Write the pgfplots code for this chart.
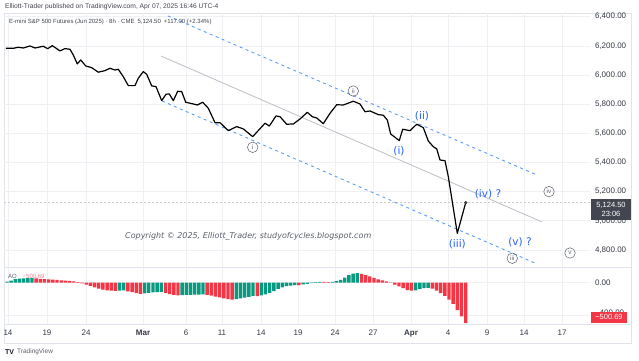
\documentclass[border=0pt]{standalone}
\usepackage{fontspec}
\setmainfont{Liberation Sans}
\newfontfamily\dejavu{DejaVu Sans}
\usepackage{pgfplots}
\pgfplotsset{compat=1.18}
\usepackage{pgfplotstable}

\definecolor{tvgrid}{HTML}{EEF0F4}
\definecolor{tvframe}{HTML}{E0E3EB}
\definecolor{tvtext}{HTML}{131722}
\definecolor{tvgrey}{HTML}{5D606B}
\definecolor{chanblue}{HTML}{5B9CF6}
\definecolor{lblblue}{HTML}{2962FF}
\definecolor{aogreen}{HTML}{089981}
\definecolor{aored}{HTML}{F23645}
\definecolor{midgrey}{HTML}{BDBFC6}
\definecolor{boxgrey}{HTML}{434651}

% price line: x = horizontal position (bar time scale), p = price
\pgfplotstableread{
x p
6 6183
13.3 6183
18.3 6190
23.3 6185
30 6199
35 6185
43.3 6197
47.7 6180
52.3 6201
60 6165
65 6181
70 6176
73.3 6137
77.3 6076
80.7 6103
85.7 6062
91.7 6050
98.3 6019
105 6030
110 6046
115 6034
118.3 6039
123.3 5988
128.3 5927
135 5927
138.3 5978
143.3 6023
146.7 6005
151.7 5925
156 5920
161.7 5824
166 5868
169.3 5870
173.3 5824
177.7 5888
181.7 5886
185.7 5813
193.3 5801
197.3 5794
202.7 5813
208.3 5772
215 5673
220 5673
228.3 5618
236.7 5646
243.3 5630
252.7 5577
265 5669
269.3 5650
276 5719
280 5714
286.7 5662
293.3 5664
300 5698
307.3 5744
312.3 5714
316.7 5705
323.3 5666
330 5737
336.7 5796
343.3 5794
353.3 5820
360 5801
365 5748
370 5753
378.3 5728
383.3 5724
387.3 5691
390.7 5595
399.3 5550
402.7 5628
410 5618
416.7 5662
423.3 5639
428.3 5547
433.3 5508
436.7 5493
440 5417
445 5412
448.3 5303
457.3 4914
465.7 5124.5
}\price

% Awesome Oscillator, rising bars
\pgfplotstableread{
i v
0 12
1 25
2 41
3 48
4 52
5 55
6 55
27 -99
28 -97
33 -135
34 -128
35 -122
36 -118
37 -116
42 -157
43 -154
44 -152
45 -150
46 -149
47 -148
55 -205
56 -196
57 -186
58 -176
59 -165
61 -158
62 -146
63 -128
64 -105
65 -80
66 -60
67 -46
68 -37
69 -32
71 -24
72 -16
73 -8
74 4
75 8
78 9
79 16
80 33
81 62
82 91
83 111
84 117
98 -96
99 -80
100 -68
101 -66
}\aoG

% Awesome Oscillator, falling bars
\pgfplotstableread{
i v
7 50
8 46
9 42
10 38
11 35
12 32
13 28
14 24
15 19
16 13
17 4
18 -12
19 -25
20 -42
21 -60
22 -76
23 -88
24 -96
25 -100
26 -102
29 -108
30 -118
31 -130
32 -140
38 -128
39 -142
40 -153
41 -160
48 -152
49 -162
50 -173
51 -184
52 -195
53 -204
54 -212
60 -167
70 -33
76 7
77 6
85 108
86 92
87 75
88 58
89 40
90 26
91 13
92 3
93 -25
94 -48
95 -70
96 -95
97 -100
102 -76
103 -100
104 -130
105 -165
106 -210
107 -265
108 -340
109 -420
110 -500.69
}\aoR

\begin{document}
\begin{tikzpicture}[x=1pt,y=1pt]
\path[use as bounding box, fill=white] (0,0) rectangle (639,360);
\draw[tvframe, line width=0.6pt] (4,17) rectangle (631,347);
\draw[tvframe, line width=0.6pt] (4,93) -- (631,93);
\draw[tvframe, line width=0.6pt] (4,36) -- (631,36);

% ---------- price pane ----------
\begin{axis}[
  at={(4pt,93pt)}, anchor=south west,
  width=586pt, height=254pt, scale only axis,
  xmin=4, xmax=590, ymin=4683, ymax=6425,
  axis line style={draw=none},
  tick style={draw=none},
  xtick={8,47,86,143,186,222,261,298,335,373,411,448,487,524,562},
  xticklabels={},
  ytick={4800,5000,5200,5400,5600,5800,6000,6200,6400},
  yticklabel pos=right,
  grid=major, major grid style={tvgrid, line width=0.6pt},
  yticklabel style={font=\fontsize{8}{9}\selectfont, text=tvtext!85, anchor=west, xshift=1.5pt,
    /pgf/number format/fixed, /pgf/number format/fixed zerofill,
    /pgf/number format/precision=2, /pgf/number format/1000 sep={,},
    /pgf/number format/assume math mode=true},
]
\addplot[gray!40, dash pattern=on 2pt off 2pt, line width=0.5pt] coordinates {(4,5124.5) (590,5124.5)};
\addplot[midgrey, line width=0.8pt] coordinates {(161,6130) (542,4992)};
\addplot[chanblue, line width=0.9pt, dash pattern=on 3pt off 3.5pt] coordinates {(168,6405) (537,5314)};
\addplot[chanblue, line width=0.9pt, dash pattern=on 3pt off 3.5pt] coordinates {(162,5822) (537,4704)};
\addplot[black, line width=1.2pt, line join=round] table[x=x, y=p] {\price};
\addplot[only marks, mark=*, mark size=1.5pt, black!75] coordinates {(465.7,5124.5)};

\tikzset{cl/.style={circle, draw=tvgrey, line width=0.5pt, inner sep=0pt, minimum size=10.5pt,
  font=\fontsize{6.3}{7}\selectfont, text=tvgrey}}
\node[cl] at (axis cs:252.7,5504) {i};
\node[cl] at (axis cs:353.3,5890) {ii};
\node[cl] at (axis cs:512.3,4743) {iii};
\node[cl] at (axis cs:549,5200) {iv};
\node[cl] at (axis cs:570,4779) {v};

\tikzset{bl/.style={text=lblblue, font=\dejavu\fontsize{10.5}{12}\selectfont, inner sep=0pt}}
\node[bl] at (axis cs:399,5474) {(i)};
\node[bl] at (axis cs:422,5719) {(ii)};
\node[bl] at (axis cs:457.3,4841) {(iii)};
\node[bl] at (axis cs:488,5182) {(iv) ?};
\node[bl] at (axis cs:520,4853) {(v) ?};
\end{axis}

% ---------- AO pane ----------
\begin{axis}[
  at={(4pt,36pt)}, anchor=south west,
  width=586pt, height=57pt, scale only axis,
  xmin=4, xmax=590, ymin=-513, ymax=192,
  axis line style={draw=none},
  tick style={draw=none},
  xtick={8,47,86,143,186,222,261,298,335,373,411,448,487,524,562},
  xticklabels={14,19,24,\textbf{Mar},6,11,14,19,24,27,\textbf{Apr},4,9,14,17},
  xticklabel style={font=\fontsize{8}{9}\selectfont, text=tvtext!85, yshift=-2pt},
  ytick={-400,0},
  yticklabels={\raisebox{4pt}{−400.00},0.00},
  yticklabel pos=right,
  yticklabel style={font=\fontsize{8}{9}\selectfont, text=tvtext!85, anchor=west, xshift=1.5pt},
  grid=major, major grid style={tvgrid, line width=0.6pt},
]
\addplot[ybar, bar width=3.4, bar shift=0pt, fill=aogreen, draw=none] table[x expr=7+4.17*\thisrow{i}, y=v] {\aoG};
\addplot[ybar, bar width=3.4, bar shift=0pt, fill=aored, draw=none] table[x expr=7+4.17*\thisrow{i}, y=v] {\aoR};
\end{axis}

% ---------- texts ----------
\node[anchor=west, inner sep=0pt, font=\fontsize{6.7}{7.5}\selectfont, text=tvtext!80] at (5,353)
  {Elliott-Trader published on TradingView.com, Apr 07, 2025 16:46 UTC-4};
\node[anchor=west, inner sep=0pt, font=\fontsize{6}{7}\selectfont, text=tvtext!80] at (9,338)
  {E-mini S\&P 500 Futures (Jun 2025) · 8h · CME\enspace 5,124.50\enspace +117.00 (+2.34\%)};
\node[anchor=west, inner sep=0pt, font=\dejavu\itshape\fontsize{8}{9}\selectfont, text=tvgrey] at (125,123.3)
  {Copyright © 2025, Elliott\_Trader, studyofcycles.blogspot.com};

\node[fill=boxgrey, text=white, inner sep=0pt, minimum width=40pt, minimum height=21pt,
  align=center, font=\fontsize{7.5}{9}\selectfont] at (611,150.5) {5,124.50\\23:06};
\node[fill=aored, text=white, inner sep=0pt, minimum width=36pt, minimum height=11pt,
  font=\fontsize{7.5}{9}\selectfont] at (609,42.8) {−500.69};

\node[anchor=west, inner sep=0pt, font=\fontsize{6}{7}\selectfont, text=tvgrey] at (8,84) {AO};
\node[anchor=west, inner sep=0pt, font=\fontsize{6}{7}\selectfont, text=aored!60] at (22.5,84) {−500.69};

\node[anchor=west, inner sep=0pt, font=\bfseries\fontsize{7}{8}\selectfont, text=tvtext] at (5,8) {TV};
\node[anchor=west, inner sep=0pt, font=\fontsize{6.5}{7}\selectfont, text=tvgrey] at (17,8) {TradingView};
\end{tikzpicture}
\end{document}
